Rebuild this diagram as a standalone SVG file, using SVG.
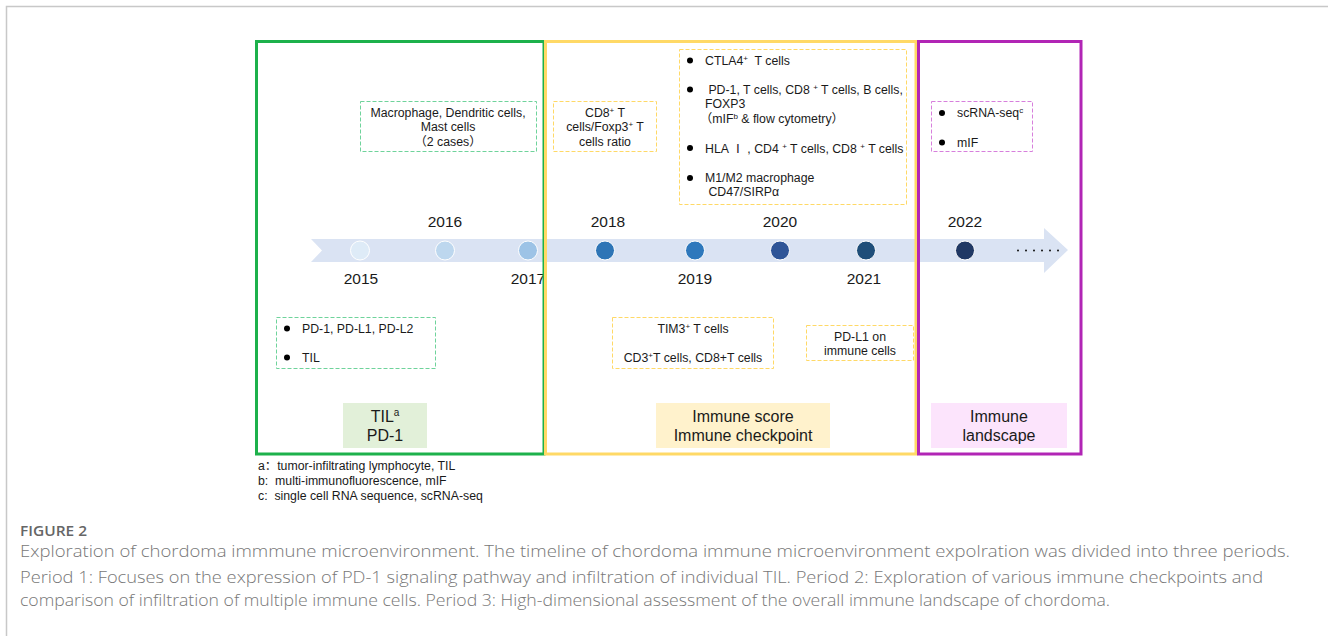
<svg xmlns="http://www.w3.org/2000/svg" width="1328" height="636" viewBox="0 0 1328 636">
<style>
.t{font-family:"Liberation Sans","Noto Sans CJK SC",Arial,sans-serif;fill:#1a1a1a}
.s12{font-size:12.3px}
.yr{font-size:15.5px;text-anchor:middle}
.lab{font-size:16px;text-anchor:middle}
.fn{font-size:12.3px}
.c{text-anchor:middle}
.dg{fill:none;stroke:#6fd39b;stroke-width:1;stroke-dasharray:4 2}
.dy{fill:none;stroke:#ffd966;stroke-width:1;stroke-dasharray:4 2}
.dp{fill:none;stroke:#d77fdc;stroke-width:1;stroke-dasharray:4 2}
.cap{font-family:"Open Sans","Liberation Sans",sans-serif;font-weight:300;font-size:16px;fill:#777}
.bul{fill:#000}
</style>
<rect x="0" y="0" width="1328" height="636" fill="#fff"/>
<rect x="6.5" y="6.5" width="1400" height="700" fill="none" stroke="#c8c8c8" stroke-width="1.5"/>

<g id="timeline">
<polygon points="311,239 1044,239 1044,228 1068,250 1044,273 1044,262 311,262 322,250.5" fill="#dae3f3"/>
<g stroke="#fff" stroke-width="1">
<circle cx="360" cy="250.5" r="9.5" fill="#deebf7"/>
<circle cx="445" cy="250.5" r="9.5" fill="#bdd7ee"/>
<circle cx="528" cy="250.5" r="9.5" fill="#9dc3e6"/>
<circle cx="605" cy="250.5" r="9.5" fill="#2e75b6"/>
<circle cx="695" cy="250.5" r="9.5" fill="#2e78bc"/>
<circle cx="780" cy="250.5" r="9.5" fill="#2f5597"/>
<circle cx="866" cy="250.5" r="9.5" fill="#1f4e79"/>
<circle cx="965" cy="250.5" r="9.5" fill="#203864"/>
</g>
<g fill="#111">
<circle cx="1018" cy="250.5" r="1"/><circle cx="1026" cy="250.5" r="1"/><circle cx="1034" cy="250.5" r="1"/><circle cx="1042" cy="250.5" r="1"/><circle cx="1050" cy="250.5" r="1"/><circle cx="1058" cy="250.5" r="1"/>
</g>
<text class="t yr" x="445" y="227">2016</text>
<text class="t yr" x="608" y="227">2018</text>
<text class="t yr" x="780" y="227">2020</text>
<text class="t yr" x="965" y="227">2022</text>
<text class="t yr" x="361" y="284">2015</text>
<text class="t yr" x="528" y="284">2017</text>
<text class="t yr" x="695" y="284">2019</text>
<text class="t yr" x="864" y="284">2021</text>
</g>

<g id="period1">
<rect x="256.5" y="41.5" width="287.5" height="412.5" fill="none" stroke="#1db14b" stroke-width="3"/>
</g>
<g id="period2">
<rect x="545.5" y="41.5" width="370.5" height="412.5" fill="none" stroke="#ffd966" stroke-width="3"/>
</g>
<g id="period3">
<rect x="918.5" y="41.5" width="162.5" height="412.5" fill="none" stroke="#b125b5" stroke-width="3"/>
</g>

<g id="box-macrophage">
<rect class="dg" x="360.5" y="101.5" width="176" height="50"/>
<text class="t s12 c" x="448" y="117">Macrophage, Dendritic cells,</text>
<text class="t s12 c" x="448" y="131">Mast cells</text>
<text class="t s12 c" x="448" y="146">（2 cases）</text>
</g>

<g id="box-cd8ratio">
<rect class="dy" x="553.5" y="101.5" width="103" height="50"/>
<text class="t s12 c" x="605" y="117">CD8<tspan font-size="8" dy="-4">+</tspan><tspan dy="4"> T</tspan></text>
<text class="t s12 c" x="605" y="131">cells/Foxp3<tspan font-size="8" dy="-4">+</tspan><tspan dy="4"> T</tspan></text>
<text class="t s12 c" x="605" y="146">cells ratio</text>
</g>

<g id="box-2020">
<rect class="dy" x="679.5" y="49.5" width="227" height="155"/>
<circle class="bul" cx="690" cy="60.5" r="3"/>
<text class="t s12" x="705" y="65">CTLA4<tspan font-size="8" dy="-4">+</tspan><tspan dy="4" xml:space="preserve">  T cells</tspan></text>
<circle class="bul" cx="690" cy="89.5" r="3"/>
<text class="t s12" x="705" y="94" xml:space="preserve"> PD-1, T cells, CD8 <tspan font-size="8" dy="-4">+</tspan><tspan dy="4"> T cells, B cells,</tspan></text>
<text class="t s12" x="705" y="108">FOXP3</text>
<text class="t s12" x="700" y="123">（mIF<tspan font-size="8" dy="-4">b</tspan><tspan dy="4"> &amp; flow cytometry）</tspan></text>
<circle class="bul" cx="690" cy="148" r="3"/>
<text class="t s12" x="705" y="153" xml:space="preserve">HLA Ⅰ , CD4 <tspan font-size="8" dy="-4">+</tspan><tspan dy="4"> T cells, CD8 </tspan><tspan font-size="8" dy="-4">+</tspan><tspan dy="4"> T cells</tspan></text>
<circle class="bul" cx="690" cy="178" r="3"/>
<text class="t s12" x="705" y="182">M1/M2 macrophage</text>
<text class="t s12" x="705" y="196" xml:space="preserve"> CD47/SIRPα</text>
</g>

<g id="box-2022">
<rect class="dp" x="931.5" y="101.5" width="101" height="50"/>
<circle class="bul" cx="942" cy="113" r="3"/>
<text class="t s12" x="957" y="117">scRNA-seq<tspan font-size="8" dy="-4">c</tspan></text>
<circle class="bul" cx="942" cy="142.5" r="3"/>
<text class="t s12" x="957" y="147">mIF</text>
</g>

<g id="box-pd1">
<rect class="dg" x="276.5" y="317.5" width="159" height="51"/>
<circle class="bul" cx="287" cy="328.5" r="3"/>
<text class="t s12" x="302" y="333">PD-1, PD-L1, PD-L2</text>
<circle class="bul" cx="287" cy="357.5" r="3"/>
<text class="t s12" x="302" y="362">TIL</text>
</g>

<g id="box-tim3">
<rect class="dy" x="612.5" y="317.5" width="161" height="51"/>
<text class="t s12 c" x="693" y="333">TIM3<tspan font-size="8" dy="-4">+</tspan><tspan dy="4"> T cells</tspan></text>
<text class="t s12 c" x="693" y="362">CD3<tspan font-size="8" dy="-4">+</tspan><tspan dy="4">T cells, CD8+T cells</tspan></text>
</g>

<g id="box-pdl1">
<rect class="dy" x="806.5" y="325.5" width="107" height="35"/>
<text class="t s12 c" x="860" y="341">PD-L1 on</text>
<text class="t s12 c" x="860" y="355">immune cells</text>
</g>

<g id="label-til">
<rect x="343" y="403" width="84" height="45" fill="#e2f0d9"/>
<text class="t lab" x="385" y="422">TIL<tspan font-size="10" dy="-6">a</tspan></text>
<text class="t lab" x="385" y="441">PD-1</text>
</g>
<g id="label-immune-score">
<rect x="656" y="403" width="174" height="45" fill="#fff2cc"/>
<text class="t lab" x="743" y="422">Immune score</text>
<text class="t lab" x="743" y="441">Immune checkpoint</text>
</g>
<g id="label-landscape">
<rect x="931" y="403" width="136" height="45" fill="#fce4fc"/>
<text class="t lab" x="999" y="422">Immune</text>
<text class="t lab" x="999" y="441">landscape</text>
</g>

<g id="footnotes">
<text class="t fn" x="258" y="470">a：tumor-infiltrating lymphocyte, TIL</text>
<text class="t fn" x="258" y="485" xml:space="preserve">b:  multi-immunofluorescence, mIF</text>
<text class="t fn" x="258" y="500" xml:space="preserve">c:  single cell RNA sequence, scRNA-seq</text>
</g>

<g id="caption">
<text x="20" y="536" style="font-family:'Open Sans','Liberation Sans',sans-serif;font-size:14px;fill:#666;font-weight:600" textLength="67" lengthAdjust="spacingAndGlyphs">FIGURE 2</text>
<text class="cap" x="20" y="557" textLength="1270" lengthAdjust="spacingAndGlyphs">Exploration of chordoma immmune microenvironment. The timeline of chordoma immune microenvironment expolration was divided into three periods.</text>
<text class="cap" x="20" y="583" textLength="1243" lengthAdjust="spacingAndGlyphs">Period 1: Focuses on the expression of PD-1 signaling pathway and infiltration of individual TIL. Period 2: Exploration of various immune checkpoints and</text>
<text class="cap" x="20" y="606" textLength="1090" lengthAdjust="spacingAndGlyphs">comparison of infiltration of multiple immune cells. Period 3: High-dimensional assessment of the overall immune landscape of chordoma.</text>
</g>
</svg>
